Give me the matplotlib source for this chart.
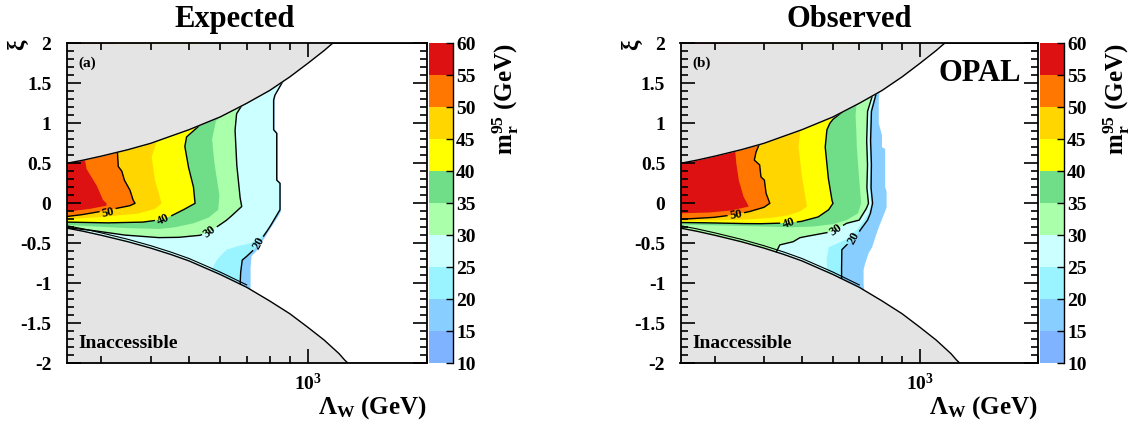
import numpy as np
import matplotlib
matplotlib.use('Agg')
import matplotlib.pyplot as plt
from matplotlib.colors import ListedColormap, BoundaryNorm
from matplotlib.colorbar import ColorbarBase
from matplotlib.ticker import FixedLocator, FixedFormatter, NullFormatter

plt.rcParams['font.family'] = ['Liberation Serif', 'DejaVu Serif']
plt.rcParams['font.weight'] = 'bold'
plt.rcParams['mathtext.fontset'] = 'custom'
plt.rcParams['mathtext.rm'] = 'Liberation Serif:bold'
plt.rcParams['mathtext.it'] = 'Liberation Serif:bold'
plt.rcParams['mathtext.bf'] = 'Liberation Serif:bold'

LAMBDA_MIN, LAMBDA_MAX = 245, 2000

# colour scale of m_r^95 (GeV)
LEVELS = [10, 15, 20, 25, 30, 35, 40, 45, 50, 55, 60]
BAND_COLORS = ['#7fb2ff', '#88cfff', '#99f4ff', '#ccffff', '#aaffaa',
               '#70dd88', '#ffff00', '#ffd600', '#ff7700', '#dd1111']
GRAY = '#e4e4e4'

# edges of the theoretically accessible region
UPPER_LAMBDA = [245, 270, 300, 350, 400, 450, 500, 600, 700, 800, 900, 1000, 1100, 1130, 1155, 2000]
UPPER_XI = [0.50, 0.54, 0.59, 0.67, 0.75, 0.84, 0.92, 1.08, 1.25, 1.41, 1.58, 1.75, 1.91, 1.96, 2.0, 2.0]
LOWER_LAMBDA = [245, 270, 300, 350, 400, 450, 500, 600, 700, 800, 900, 1000, 1100, 1200, 1240, 1265, 2000]
LOWER_XI = [-0.31, -0.35, -0.40, -0.48, -0.56, -0.64, -0.72, -0.89, -1.05, -1.22, -1.38, -1.55, -1.71,
            -1.88, -1.96, -2.0, -2.0]

# expected limit: edge of the region m_r^95 > level, (Lambda_W, xi)
EXP_15 = [(880, 1.57), (830, 1.36), (824, 1.29), (824, 0.92), (839, 0.875), (839, 0.29), (855, 0.25),
          (855, -0.10), (840, -0.17), (820, -0.25), (800, -0.33), (780, -0.42), (760, -0.50),
          (740, -0.60), (720, -0.66), (716, -0.80), (716, -1.12)]
EXP_20 = [(875, 1.57), (825, 1.35), (819, 1.29), (819, 0.92), (834, 0.875), (834, 0.29), (850, 0.25),
          (850, -0.08), (834, -0.15), (800, -0.30), (765, -0.44), (740, -0.55), (705, -0.65),
          (682, -0.71), (676, -0.85), (673, -1.05)]
EXP_25 = [(874, 1.57), (824, 1.35), (818, 1.29), (818, 0.92), (833, 0.875), (833, 0.29), (849, 0.25),
          (849, -0.08), (825, -0.17), (790, -0.33), (750, -0.45), (714, -0.50), (660, -0.54),
          (623, -0.58), (600, -0.66), (588, -0.71), (571, -0.83), (566, -0.90)]
EXP_30 = [(690, 1.27), (660, 1.12), (654, 0.92), (660, 0.50), (673, 0.08), (680, -0.04), (650, -0.13),
          (623, -0.21), (590, -0.29), (565, -0.355), (533, -0.40), (474, -0.425), (422, -0.43),
          (347, -0.40), (286, -0.34), (245, -0.305)]
EXP_35 = [(625, 1.15), (585, 1.03), (572, 0.80), (580, 0.50), (597, 0.10), (593, -0.08), (560, -0.18),
          (513, -0.25), (460, -0.30), (422, -0.32), (350, -0.31), (290, -0.29), (245, -0.27)]
EXP_40 = [(535, 1.0), (528, 0.96), (493, 0.83), (488, 0.71), (498, 0.46), (513, 0.21), (518, 0.0),
          (493, -0.06), (456, -0.146), (430, -0.20), (383, -0.235), (316, -0.245), (245, -0.235)]
EXP_45 = [(418, 0.80), (414, 0.77), (402, 0.58), (410, 0.29), (426, 0.0), (410, -0.07), (370, -0.13),
          (300, -0.17), (245, -0.20)]
EXP_50 = [(329, 0.68), (331, 0.46), (338, 0.40), (343, 0.29), (354, 0.17), (361, 0.04), (365, 0.0),
          (354, -0.03), (330, -0.06), (300, -0.10), (270, -0.14), (245, -0.165)]
EXP_55 = [(272, 0.57), (275, 0.43), (292, 0.22), (303, 0.04), (309, 0.0), (309, -0.03), (280, -0.07),
          (245, -0.105)]

# observed limit
OBS_15 = [(790, 1.42), (785, 1.30), (785, 1.0), (800, 0.85), (800, 0.70), (815, 0.68), (815, 0.20),
          (822, 0.15), (822, -0.05), (815, -0.10), (800, -0.20), (785, -0.30), (770, -0.42),
          (755, -0.55), (740, -0.62), (725, -0.75), (718, -0.83), (718, -1.0), (722, -1.16)]
OBS_20 = [(778, 1.42), (752, 1.15), (748, 0.8), (752, 0.5), (750, 0.2), (757, 0.0), (748, -0.12),
          (735, -0.21), (705, -0.33), (683, -0.44), (650, -0.52), (632, -0.58), (631, -0.75), (631, -1.0)]
OBS_25 = [(772, 1.41), (745, 1.15), (742, 0.8), (746, 0.5), (744, 0.2), (751, 0.0), (741, -0.12),
          (718, -0.22), (690, -0.33), (650, -0.45), (610, -0.51), (585, -0.55), (578, -0.70), (580, -0.90)]
OBS_30 = [(760, 1.38), (735, 1.15), (731, 0.8), (735, 0.5), (732, 0.2), (739, 0.0), (731, -0.06),
          (716, -0.13), (700, -0.21), (650, -0.25), (610, -0.33), (589, -0.36), (530, -0.40),
          (494, -0.43), (475, -0.48), (439, -0.52), (427, -0.64)]
OBS_35 = [(690, 1.28), (685, 1.1), (688, 0.9), (690, 0.71), (700, 0.29), (708, 0.0), (695, -0.125),
          (650, -0.21), (600, -0.26), (534, -0.29), (466, -0.30), (400, -0.29), (300, -0.275), (245, -0.265)]
OBS_40 = [(660, 1.21), (600, 1.05), (589, 1.0), (579, 0.92), (573, 0.71), (583, 0.33), (596, 0.04),
          (600, 0.0), (585, -0.08), (550, -0.17), (500, -0.225), (462, -0.245), (400, -0.255),
          (369, -0.255), (300, -0.245), (245, -0.24)]
OBS_45 = [(498, 0.94), (495, 0.895), (490, 0.71), (500, 0.333), (510, 0.08), (515, -0.04), (495, -0.10),
          (460, -0.15), (420, -0.18), (370, -0.20), (300, -0.215), (245, -0.22)]
OBS_50 = [(390, 0.75), (382, 0.645), (378, 0.54), (390, 0.48), (393, 0.33), (401, 0.29), (405, 0.125),
          (414, 0.0), (400, -0.05), (370, -0.10), (339, -0.14), (300, -0.175), (245, -0.20)]
OBS_55 = [(338, 0.69), (338, 0.645), (340, 0.5), (345, 0.29), (355, 0.08), (366, -0.04), (330, -0.09),
          (290, -0.115), (245, -0.125)]

EXP_REGIONS = [EXP_15, EXP_20, EXP_25, EXP_30, EXP_35, EXP_40, EXP_45, EXP_50, EXP_55]
OBS_REGIONS = [OBS_15, OBS_20, OBS_25, OBS_30, OBS_35, OBS_40, OBS_45, OBS_50, OBS_55]

# labelled contours: (text, Lambda, xi, rotation)
EXP_LABELS = [('50', 312, -0.12, 12), ('40', 430, -0.20, 25), ('30', 565, -0.355, 38), ('20', 749, -0.50, 62)]
OBS_LABELS = [('50', 339, -0.146, 10), ('40', 462, -0.25, 18), ('30', 610, -0.33, 35), ('20', 679, -0.44, 62)]


def to_px(lam, xi):
    span = np.log10(LAMBDA_MAX) - np.log10(LAMBDA_MIN)
    u = (np.log10(lam) - np.log10(LAMBDA_MIN)) / span * 360
    v = (np.asarray(xi, float) + 2) / 4 * 320
    return u, v


def from_px(u, v):
    span = np.log10(LAMBDA_MAX) - np.log10(LAMBDA_MIN)
    return 10 ** (np.log10(LAMBDA_MIN) + u / 360 * span), v / 320 * 4 - 2


def fill_region(ax, pts, color):
    lam = [p[0] for p in pts]
    xi = [p[1] for p in pts]
    if lam[-1] <= LAMBDA_MIN:      # ends on the left edge
        lam += [100, 100, lam[0]]
        xi += [xi[-1], 3, 3]
    else:                          # ends on the lower edge
        lam += [lam[-1], 100, 100, lam[0]]
        xi += [-3, -3, 3, 3]
    ax.fill(lam, xi, color=color, lw=0, zorder=1)


def draw_contour(ax, pts, gap=None):
    u, v = to_px(np.array([p[0] for p in pts], float), [p[1] for p in pts])
    uu, vv = [u[0]], [v[0]]
    for i in range(1, len(u)):
        n = max(2, int(np.hypot(u[i] - u[i - 1], v[i] - v[i - 1]) * 2) + 1)
        t = np.linspace(0, 1, n)[1:]
        uu.extend(u[i - 1] + t * (u[i] - u[i - 1]))
        vv.extend(v[i - 1] + t * (v[i] - v[i - 1]))
    uu, vv = np.array(uu), np.array(vv)
    if gap is not None:
        gu, gv = to_px(gap[0], gap[1])
        far = np.hypot(uu - gu, vv - gv) > 9
        uu = np.where(far, uu, np.nan)
        vv = np.where(far, vv, np.nan)
    lam, xi = from_px(uu, vv)
    ax.plot(lam, xi, color='black', lw=1.0, zorder=1.4)


def panel(fig, rect, crect, regions, labels, tag, title, title_x, xi_x):
    ax = fig.add_axes(rect)
    ax.set_xscale('log')
    for pts, color in zip(regions, BAND_COLORS[1:]):
        fill_region(ax, pts, color)
    # black contour lines at 20, 30, 40, 50 GeV
    for (txt, lx, ly, rot), pts in zip(labels, [regions[7], regions[5], regions[3], regions[1]]):
        draw_contour(ax, pts, gap=(lx, ly))
        ax.text(lx, ly, txt, fontsize=9, rotation=rot, ha='center', va='center', zorder=5)

    ax.fill_between(UPPER_LAMBDA, UPPER_XI, 2.0, color=GRAY, lw=0, zorder=1.6)
    ax.fill_between(LOWER_LAMBDA, -2.0, LOWER_XI, color=GRAY, lw=0, zorder=1.6)
    ax.plot(UPPER_LAMBDA, UPPER_XI, color='black', lw=1.0, zorder=2)
    ax.plot(LOWER_LAMBDA, LOWER_XI, color='black', lw=1.0, zorder=2)
    # second edge line of the coloured area along the lower boundary
    end = regions[0][-1][0]
    sel = [i for i, l in enumerate(LOWER_LAMBDA) if l <= end]
    ax.plot([LOWER_LAMBDA[i] for i in sel], [LOWER_XI[i] + 0.03 for i in sel],
            color='black', lw=0.8, zorder=2)

    ax.set_xlim(LAMBDA_MIN, LAMBDA_MAX)
    ax.set_ylim(-2, 2)
    ax.set_axisbelow(False)
    ax.xaxis.set_zorder(3)
    ax.yaxis.set_zorder(3)
    ax.xaxis.set_major_locator(FixedLocator([1000]))
    ax.xaxis.set_major_formatter(FixedFormatter([r'$\mathbf{10^{3}}$']))
    ax.xaxis.set_minor_locator(FixedLocator([300, 400, 500, 600, 700, 800, 900, 2000]))
    ax.xaxis.set_minor_formatter(NullFormatter())
    yt = [-2, -1.5, -1, -0.5, 0, 0.5, 1, 1.5, 2]
    ax.yaxis.set_major_locator(FixedLocator(yt))
    ax.yaxis.set_major_formatter(FixedFormatter(['-2', '-1.5', '-1', '-0.5', '0', '0.5', '1', '1.5', '2']))
    ax.yaxis.set_minor_locator(FixedLocator(np.arange(-20, 21) / 10.0))
    ax.tick_params(which='both', direction='in', top=True, right=True, width=1.2, color='black')
    ax.tick_params(which='major', length=10)
    ax.tick_params(which='minor', length=5)
    ax.tick_params(axis='y', pad=11, labelsize=14)
    ax.tick_params(axis='x', pad=7, labelsize=14)
    for s in ax.spines.values():
        s.set_linewidth(1.3)
        s.set_zorder(4)

    ax.text(0.058, 0.9375, tag, transform=ax.transAxes, fontsize=11, ha='center', va='center', zorder=6)
    ax.text(0.033, 0.0625, 'Inaccessible', transform=ax.transAxes, fontsize=14,
            ha='left', va='center', zorder=6)

    # colour bar
    cax = fig.add_axes(crect)
    cmap = ListedColormap(BAND_COLORS)
    norm = BoundaryNorm(LEVELS, cmap.N)
    cb = ColorbarBase(cax, cmap=cmap, norm=norm, boundaries=LEVELS, ticks=LEVELS)
    cb.outline.set_visible(False)
    cax.plot([1, 1], [0, 1], transform=cax.transAxes, color='black', lw=1.0, clip_on=False)
    cax.tick_params(direction='in', length=5, width=1, labelsize=14, pad=2)

    x1 = rect[0] + rect[2]
    fig.text(title_x, 0.953, title, fontsize=22, ha='center', va='center')
    fig.text(xi_x, 0.894, 'ξ', fontsize=17, rotation=90, ha='center', va='center')
    fig.text(x1, 0.038, r'Λ$_\mathbf{W}$ (GeV)', fontsize=18, ha='right', va='center')
    fig.text(crect[0] + crect[2] + 0.046, rect[1] + rect[3], r'm$_\mathbf{r}^\mathbf{95}$ (GeV)',
             fontsize=18, rotation=90, ha='center', va='top')
    return ax


fig = plt.figure(figsize=(11.35, 4.24), dpi=100)
H = 320 / 424
B = 1 - 363.3 / 424
panel(fig, [66.7 / 1135, B, 360 / 1135, H], [429 / 1135, B, 24.3 / 1135, H],
      EXP_REGIONS, EXP_LABELS, '(a)', 'Expected', 234.6 / 1135, 18 / 1135)
ax2 = panel(fig, [680.5 / 1135, B, 357.5 / 1135, H], [1040 / 1135, B, 24.3 / 1135, H],
            OBS_REGIONS, OBS_LABELS, '(b)', 'Observed', 848.8 / 1135, 631.5 / 1135)
ax2.text(0.837, 0.905, 'OPAL', transform=ax2.transAxes, fontsize=22, ha='center', va='center', zorder=6)

fig.savefig('out.png', dpi=100)
